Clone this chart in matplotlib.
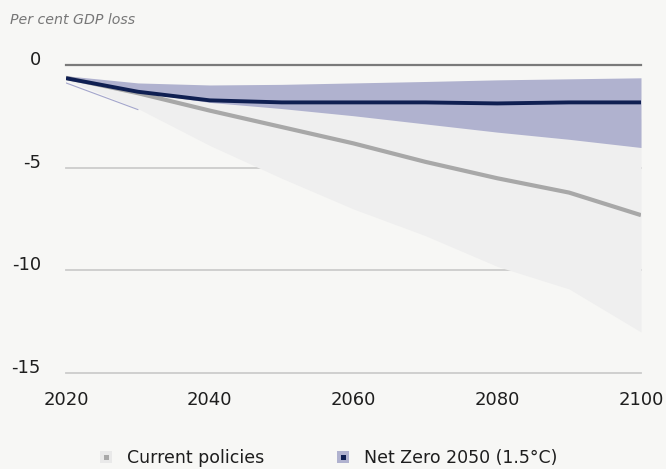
import matplotlib
matplotlib.use("Agg")
import matplotlib.pyplot as plt
from matplotlib.lines import Line2D
from matplotlib.legend_handler import HandlerTuple

years = [2020, 2030, 2040, 2050, 2060, 2070, 2080, 2090, 2100]
current_line = [-0.6, -1.35, -2.2, -3.0, -3.8, -4.7, -5.5, -6.2, -7.3]
current_upper = [-0.5, -0.9, -1.2, -1.5, -1.8, -2.0, -2.2, -2.4, -2.6]
current_lower = [-0.7, -2.1, -3.9, -5.5, -7.0, -8.3, -9.8, -10.9, -13.0]
nz_line = [-0.62, -1.28, -1.7, -1.8, -1.8, -1.8, -1.85, -1.8, -1.8]
nz_upper = [-0.5, -0.85, -0.95, -0.92, -0.85, -0.78, -0.7, -0.65, -0.6]
nz_lower = [-0.62, -1.3, -1.8, -2.1, -2.45, -2.85, -3.25, -3.6, -4.0]
nz_edge_years = [2020, 2030]
nz_edge = [-0.85, -2.15]
yticks = [0, -5, -10, -15]
xticks = [2020, 2040, 2060, 2080, 2100]
labels = ["Current policies", "Net Zero 2050 (1.5\u00b0C)"]

BG = "#f7f7f5"
GRAY_FILL = "#efefef"
GRAY_LINE = "#a8a8a8"
LAV = "#b0b2cf"
NAVY = "#0f1f52"
TXT = "#1e1e1e"

fig = plt.figure(figsize=(6.66, 4.69), dpi=100, facecolor=BG)
ax = fig.add_axes([66/666, 1-373/469, 575/666, (373-65.5)/469])
ax.set_facecolor(BG)
ax.set_xlim(2020, 2100)
ax.set_ylim(-15, 0)

for t in yticks:
    if t == 0:
        continue
    ax.axhline(t, color="#cccccc", lw=1.3, zorder=1, clip_on=False)

ax.fill_between(years, current_upper, current_lower, color=GRAY_FILL, lw=0, zorder=2)
ax.plot(nz_edge_years, nz_edge, color="#a4a6cc", lw=0.8, zorder=2.5)
ax.fill_between(years, nz_upper, nz_lower, color=LAV, lw=0, zorder=3)
ax.plot(years, current_line, color=GRAY_LINE, lw=3.0, zorder=4, solid_capstyle="butt")
ax.plot(years, nz_line, color=NAVY, lw=2.8, zorder=5, solid_capstyle="butt")
ax.axhline(0, color="#7a7a7a", lw=1.6, zorder=6, clip_on=False)

for s in ax.spines.values():
    s.set_visible(False)
ax.set_xticks(xticks)
ax.set_xticklabels([str(x) for x in xticks], fontsize=13, color=TXT)
ax.set_yticks(yticks)
ax.set_yticklabels([str(y) for y in yticks], fontsize=13, color=TXT,
                   va="baseline")
ax.tick_params(axis="x", length=0, pad=13)
ax.tick_params(axis="y", length=0, pad=18)

fig.text(10/666, 1-20/469, "Per cent GDP loss", fontsize=10.2, style="italic",
         color="#777777", va="center", ha="left")

h1 = (Line2D([], [], ls="none", marker="s", markersize=8.6, markerfacecolor="#e9e9e9", markeredgewidth=0),
      Line2D([], [], ls="none", marker="s", markersize=3.6, markerfacecolor=GRAY_LINE, markeredgewidth=0))
h2 = (Line2D([], [], ls="none", marker="s", markersize=8.6, markerfacecolor=LAV, markeredgewidth=0),
      Line2D([], [], ls="none", marker="s", markersize=3.6, markerfacecolor=NAVY, markeredgewidth=0))
leg = fig.legend([h1, h2], labels, handler_map={tuple: HandlerTuple(ndivide=1, pad=0)},
                 loc="center", bbox_to_anchor=(0.4925, 1-458/469), ncol=2, frameon=False,
                 fontsize=12.5, handlelength=0.8, handletextpad=0.8, columnspacing=4.15)
for t in leg.get_texts():
    t.set_color(TXT)

fig.savefig("out.png", dpi=100, facecolor=BG)
